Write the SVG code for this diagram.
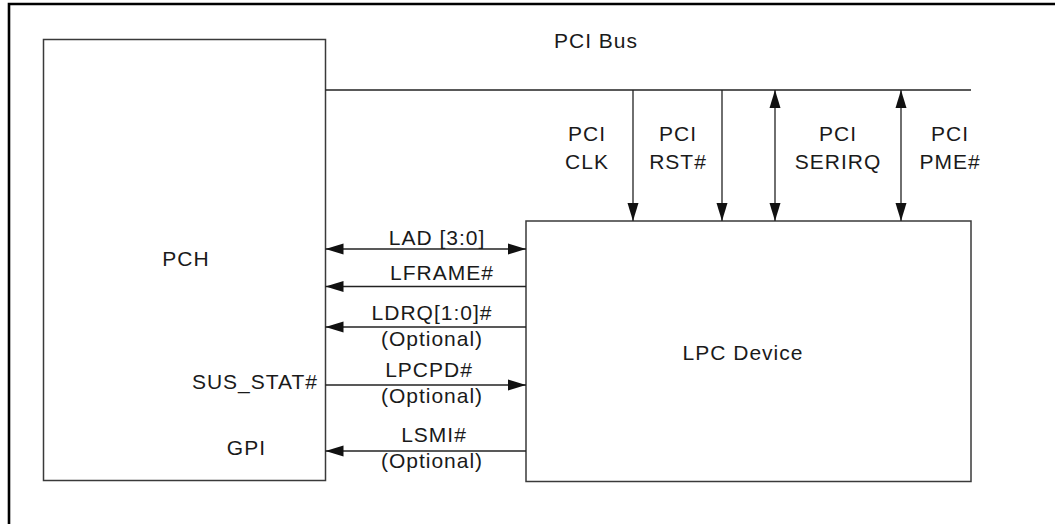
<svg xmlns="http://www.w3.org/2000/svg" width="1055" height="524" viewBox="0 0 1055 524">
  <style>
    .t { font-family: "Liberation Sans", Arial, sans-serif; font-size: 21px; fill: #1a1a1a; letter-spacing: 1px; }
    .m { text-anchor: middle; }
    .e { text-anchor: end; }
    .box { fill: #ffffff; stroke: #3a3a3a; stroke-width: 1.5; }
    .ln { stroke: #222222; stroke-width: 1.3; fill: none; }
  </style>
  <defs>
    <marker id="arr" markerUnits="userSpaceOnUse" markerWidth="19" markerHeight="12" refX="18" refY="5.5" orient="auto-start-reverse" viewBox="0 0 19 11">
      <path d="M0,0 L18,5.5 L0,11 z" fill="#111111"/>
    </marker>
  </defs>
  <rect width="1055" height="524" fill="#ffffff"/>
  <g id="frame">
    <path d="M9,530 L9,4 L1060,4" fill="none" stroke="#000000" stroke-width="2.6"/>
  </g>
  <g id="pch">
    <rect class="box" x="43.5" y="39.5" width="282" height="441"/>
    <text class="t m" x="186" y="266">PCH</text>
    <text class="t e" x="318" y="389">SUS_STAT#</text>
    <text class="t e" x="266" y="455">GPI</text>
  </g>
  <g id="lpc">
    <rect class="box" x="526" y="221" width="445" height="260.5"/>
    <text class="t m" x="743" y="360">LPC Device</text>
  </g>
  <g id="pci-bus">
    <text class="t" x="554" y="48">PCI Bus</text>
  </g>
  <g id="connectors">
    <line class="ln" x1="325.5" y1="90" x2="971" y2="90"/>
    <line class="ln" x1="633" y1="90" x2="633" y2="221" marker-end="url(#arr)"/>
    <line class="ln" x1="722" y1="90" x2="722" y2="221" marker-end="url(#arr)"/>
    <line class="ln" x1="775" y1="90" x2="775" y2="221" marker-start="url(#arr)" marker-end="url(#arr)"/>
    <line class="ln" x1="901" y1="90" x2="901" y2="221" marker-start="url(#arr)" marker-end="url(#arr)"/>
    <line class="ln" x1="325.5" y1="249" x2="526" y2="249" marker-start="url(#arr)" marker-end="url(#arr)"/>
    <line class="ln" x1="526" y1="286.5" x2="325.5" y2="286.5" marker-end="url(#arr)"/>
    <line class="ln" x1="526" y1="327" x2="325.5" y2="327" marker-end="url(#arr)"/>
    <line class="ln" x1="325.5" y1="385" x2="526" y2="385" marker-end="url(#arr)"/>
    <line class="ln" x1="526" y1="451" x2="325.5" y2="451" marker-end="url(#arr)"/>
  </g>
  <g id="labels">
    <text class="t m" x="587" y="141">PCI</text>
    <text class="t m" x="587" y="169">CLK</text>
    <text class="t m" x="678" y="141">PCI</text>
    <text class="t m" x="678" y="169">RST#</text>
    <text class="t m" x="838" y="141">PCI</text>
    <text class="t m" x="838" y="169">SERIRQ</text>
    <text class="t m" x="950" y="141">PCI</text>
    <text class="t m" x="950" y="169">PME#</text>
    <text class="t m" x="437" y="245">LAD [3:0]</text>
    <text class="t m" x="442" y="280">LFRAME#</text>
    <text class="t m" x="432" y="320">LDRQ[1:0]#</text>
    <text class="t m" x="432" y="346">(Optional)</text>
    <text class="t m" x="429" y="377">LPCPD#</text>
    <text class="t m" x="432" y="403">(Optional)</text>
    <text class="t m" x="434" y="442">LSMI#</text>
    <text class="t m" x="432" y="468">(Optional)</text>
  </g>
</svg>
